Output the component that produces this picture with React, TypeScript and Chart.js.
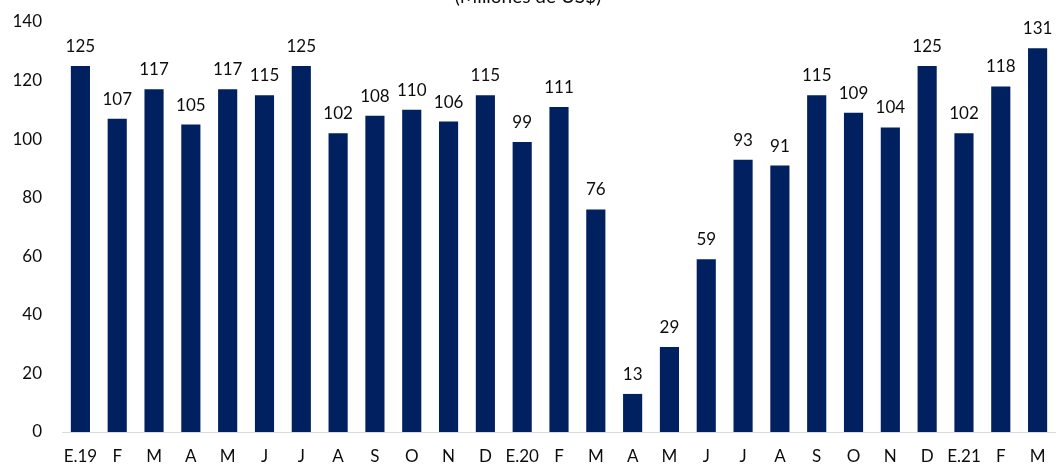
import React, { useEffect, useRef } from "react";
import { Chart, registerables } from "chart.js";

Chart.register(...registerables);

const categories = [
  "E.19", "F", "M", "A", "M", "J", "J", "A", "S", "O", "N", "D",
  "E.20", "F", "M", "A", "M", "J", "J", "A", "S", "O", "N", "D",
  "E.21", "F", "M",
];
const values = [
  125, 107, 117, 105, 117, 115, 125, 102, 108, 110, 106, 115,
  99, 111, 76, 13, 29, 59, 93, 91, 115, 109, 104, 125,
  102, 118, 131,
];
const yTicks = [0, 20, 40, 60, 80, 100, 120, 140];
const titleText = "(Millones de US$)";

const FONT = "Lato, 'Open Sans', sans-serif";
const BAR = "#002060";
const TEXT = "#0d0d0d";

const labelPlugin = {
  id: "valueLabels",
  afterDatasetsDraw(chart: any) {
    const { ctx } = chart;
    const meta = chart.getDatasetMeta(0);
    ctx.save();
    ctx.font = `17px ${FONT}`;
    ctx.fillStyle = TEXT;
    ctx.textAlign = "center";
    ctx.textBaseline = "alphabetic";
    meta.data.forEach((bar: any, i: number) => {
      ctx.fillText(String(values[i]), bar.x, bar.y - 14);
    });
    ctx.restore();
  },
};

const titlePlugin = {
  id: "cutTitle",
  afterDraw(chart: any) {
    const { ctx, width } = chart;
    ctx.save();
    ctx.font = `19px ${FONT}`;
    ctx.fillStyle = TEXT;
    ctx.textAlign = "center";
    ctx.textBaseline = "alphabetic";
    ctx.fillText(titleText, width / 2, 3);
    ctx.restore();
  },
};

export default function App() {
  const ref = useRef<HTMLCanvasElement | null>(null);

  useEffect(() => {
    if (!ref.current) return;
    const chart = new Chart(ref.current, {
      type: "bar",
      data: {
        labels: categories,
        datasets: [
          {
            data: values,
            backgroundColor: BAR,
            borderWidth: 0,
            barPercentage: 0.52,
            categoryPercentage: 1,
          },
        ],
      },
      options: {
        animation: false,
        responsive: true,
        maintainAspectRatio: false,
        layout: { padding: { top: 22, right: 0, left: 0, bottom: 0 } },
        plugins: {
          legend: { display: false },
          tooltip: { enabled: false },
          title: { display: false },
        },
        scales: {
          x: {
            offset: true,
            grid: { display: false, drawTicks: false },
            border: { display: true, color: "#D9D9D9", width: 1 },
            ticks: {
              color: TEXT,
              font: { family: FONT, size: 17 },
              padding: 14,
              maxRotation: 0,
              autoSkip: false,
            },
            afterFit(scale: any) {
              scale.height = 33;
              scale.paddingLeft = 0;
              scale.paddingRight = 0;
            },
          },
          y: {
            min: 0,
            max: 140,
            afterBuildTicks(scale: any) {
              scale.ticks = yTicks.map((v) => ({ value: v }));
            },
            grid: { display: false, drawTicks: false },
            border: { display: false },
            ticks: {
              color: TEXT,
              font: { family: FONT, size: 17 },
              padding: 20,
            },
            afterFit(scale: any) {
              scale.width = 62;
              scale.paddingTop = 0;
              scale.paddingBottom = 0;
            },
          },
        },
      },
      plugins: [labelPlugin, titlePlugin],
    });
    return () => chart.destroy();
  }, []);

  return (
    <div style={{ position: "fixed", left: 0, top: 0, width: 1056, height: 465, background: "#fff" }}>
      <canvas ref={ref} />
    </div>
  );
}
